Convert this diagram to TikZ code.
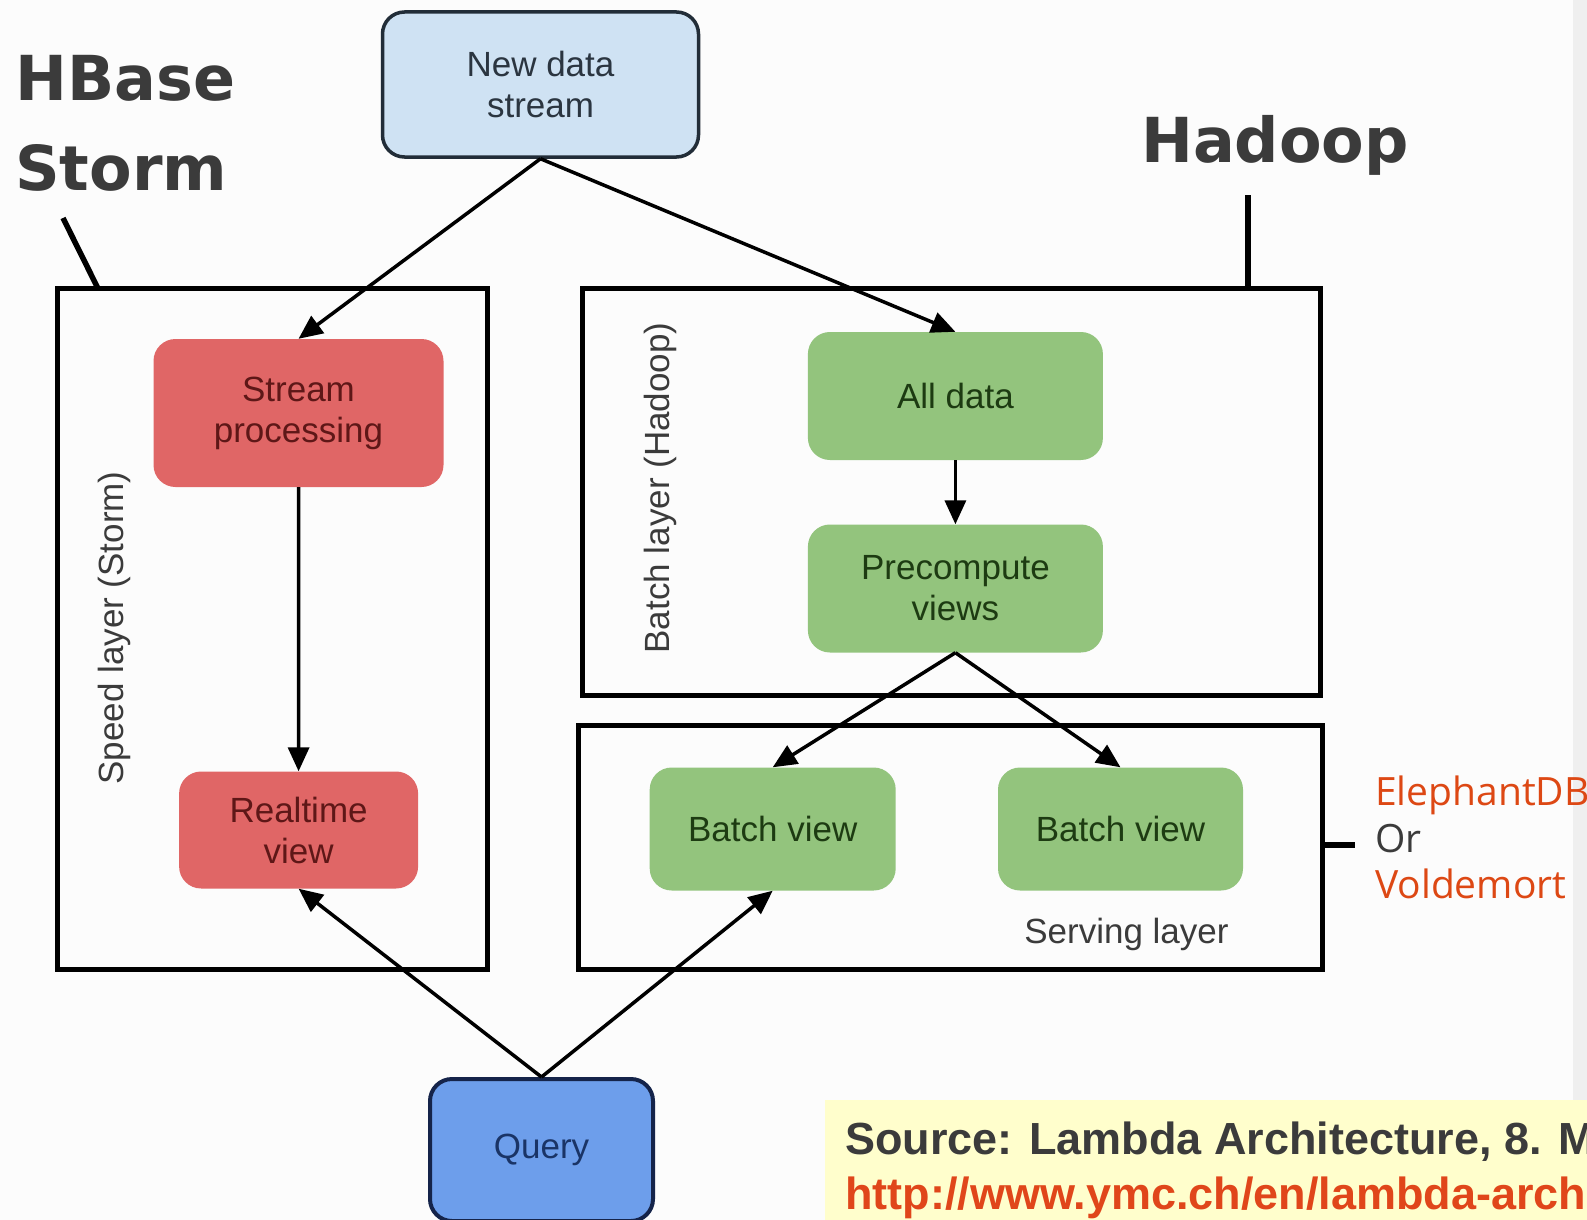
\documentclass[tikz,border=0pt]{standalone}
\usepackage{fontspec}
\setmainfont{Liberation Sans}
\newfontfamily\headfont{DejaVu Sans}
\newfontfamily\notefont{Open Sans}
\usetikzlibrary{arrows.meta}

\definecolor{pagebg}{HTML}{FCFCFC}
\definecolor{stripgray}{HTML}{EFEFEF}
\definecolor{notebg}{HTML}{FFFECC}
\definecolor{textgray}{HTML}{3B3B3B}
\definecolor{dborange}{HTML}{DD4814}
\definecolor{urlred}{HTML}{E0461A}
\definecolor{streamblue}{HTML}{CFE2F3}
\definecolor{streamline}{HTML}{222D38}
\definecolor{streamtext}{HTML}{2B3540}
\definecolor{speedred}{HTML}{E06666}
\definecolor{speedtext}{HTML}{5E1717}
\definecolor{batchgreen}{HTML}{93C47D}
\definecolor{batchtext}{HTML}{1D3B12}
\definecolor{queryblue}{HTML}{6D9EEB}
\definecolor{queryline}{HTML}{15244A}
\definecolor{querytext}{HTML}{1A3466}

\begin{document}
\begin{tikzpicture}[
    x=1pt, y=-1pt,
    box/.style={rectangle, rounded corners=22pt, inner sep=0pt, align=center,
        font=\fontsize{35}{41}\selectfont},
    layer/.style={rectangle, draw=black, line width=5pt, inner sep=0pt},
    laytext/.style={text=textgray, inner sep=0pt, font=\fontsize{35}{41}\selectfont},
    tool/.style={text=textgray, inner sep=0pt, anchor=base west,
        font=\headfont\bfseries\fontsize{62}{80}\selectfont},
    dbname/.style={inner sep=0pt, anchor=base west,
        font=\notefont\fontsize{39}{46}\selectfont},
    source/.style={inner sep=0pt, anchor=base west,
        font=\bfseries\fontsize{45}{54}\selectfont},
    pointer/.style={line width=5.5pt, black},
    edge/.style={line width=3.5pt, -{Triangle[length=24pt,width=21pt]}}
]
    % page, side strip and source note
    \useasboundingbox (0,0) rectangle (1587,1220);
    \fill[pagebg] (0,0) rectangle (1587,1220);
    \fill[stripgray] (1573,0) rectangle (1587,1220);
    \fill[notebg] (825,1100) rectangle (1587,1220);

    % layers
    \node[layer, minimum width=430pt, minimum height=681pt] (speed) at (272.8,629) {};
    \node[layer, minimum width=738pt, minimum height=407pt] (batch) at (951.9,491.9) {};
    \node[layer, minimum width=744pt, minimum height=244pt] (serving) at (950.9,847.6) {};
    \node[laytext, rotate=90, anchor=base] (speedtxt) at (123,628) {Speed layer (Storm)};
    \node[laytext, rotate=90, anchor=base] (batchtxt) at (669,488) {Batch layer (Hadoop)};
    \node[laytext, anchor=base] (servingtxt) at (1126.5,943) {Serving layer};

    % boxes
    \node[box, fill=streamblue, draw=streamline, line width=3.5pt, text=streamtext,
        minimum width=316pt, minimum height=145pt] (news) at (540.5,84.5) {New data\\stream};
    \node[box, fill=speedred, text=speedtext,
        minimum width=290pt, minimum height=148pt] (stream) at (298.5,413) {Stream\\processing};
    \node[box, fill=speedred, text=speedtext,
        minimum width=239pt, minimum height=117pt] (realtime) at (298.6,830) {Realtime\\view};
    \node[box, fill=batchgreen, text=batchtext,
        minimum width=295pt, minimum height=128pt] (alldata) at (955.4,396) {All data};
    \node[box, fill=batchgreen, text=batchtext,
        minimum width=295pt, minimum height=128pt] (precomp) at (955.4,588.5) {Precompute\\views};
    \node[box, fill=batchgreen, text=batchtext,
        minimum width=246pt, minimum height=123pt] (bview1) at (772.7,829) {Batch view};
    \node[box, fill=batchgreen, text=batchtext,
        minimum width=245pt, minimum height=123pt] (bview2) at (1120.5,829) {Batch view};
    \node[box, fill=queryblue, draw=queryline, line width=4pt, text=querytext,
        minimum width=223pt, minimum height=142pt] (query) at (541.5,1150) {Query};

    % arrows
    \draw[edge] (news.south) -- (stream.north);
    \draw[edge] (news.south) -- (alldata.north);
    \draw[edge] (stream.south) -- (realtime.north);
    \draw[edge] (alldata.south) -- (precomp.north);
    \draw[edge] (precomp.south) -- (bview1.north);
    \draw[edge] (precomp.south) -- (bview2.north);
    \draw[edge] (query.north) -- (realtime.south);
    \draw[edge] (query.north) -- (bview1.south);

    % tools
    \node[tool] (hbase) at (15,101) {HBase};
    \node[tool] (storm) at (15,190) {Storm};
    \node[tool] (hadoop) at (1141,162) {Hadoop};
    \coordinate (stormtick) at (63,218);
    \coordinate (stormfoot) at (98,288.5);
    \coordinate (hadooptick) at (1248,195);
    \coordinate (dbtick) at (1355,845);
    \draw[pointer] (stormtick) -- (stormfoot);
    \draw[pointer] (hadooptick) -- (hadooptick |- batch.north);
    \draw[pointer] (dbtick -| serving.east) -- (dbtick);
    \node[dbname, text=dborange] (eleph) at (1375,805) {ElephantDB};
    \node[dbname, text=textgray] (orword) at (1375,852) {Or};
    \node[dbname, text=dborange] (volde) at (1375,898) {Voldemort};

    % source note
    \begin{scope}
        \clip (825,1100) rectangle (1587,1220);
        \node[source, text=textgray] (srcline) at (845,1154) {Source: Lambda Architecture, 8. M};
        \node[source, text=urlred] (urlline) at (845,1209) {http://www.ymc.ch/en/lambda-arch};
    \end{scope}
\end{tikzpicture}
\end{document}
